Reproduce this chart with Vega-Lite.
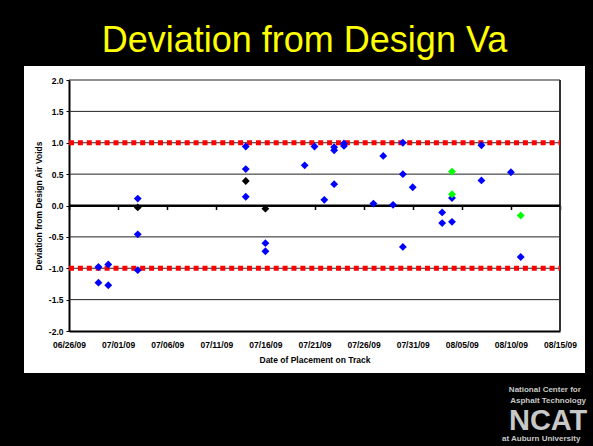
{
  "$schema": "https://vega.github.io/schema/vega-lite/v6.json",
  "width": 561,
  "height": 307,
  "autosize": {"type": "none"},
  "padding": {"left": 24, "top": 66, "right": 8, "bottom": 73},
  "background": "#000000",
  "config": {
    "view": {"fill": "#ffffff", "stroke": null},
    "font": "Liberation Sans"
  },
  "title": {
    "text": "Deviation from Design Va",
    "color": "#FFFF00",
    "fontSize": 36,
    "fontWeight": "normal",
    "font": "Liberation Sans",
    "anchor": "middle",
    "offset": 6
  },
  "datasets": {
    "points": [
      {"date": "2009-06-29", "deviation": -0.98, "series": "Test Sections"},
      {"date": "2009-06-29", "deviation": -1.23, "series": "Test Sections"},
      {"date": "2009-06-30", "deviation": -0.94, "series": "Test Sections"},
      {"date": "2009-06-30", "deviation": -1.27, "series": "Test Sections"},
      {"date": "2009-07-03", "deviation": 0.11, "series": "Test Sections"},
      {"date": "2009-07-03", "deviation": -0.46, "series": "Test Sections"},
      {"date": "2009-07-03", "deviation": -1.03, "series": "Test Sections"},
      {"date": "2009-07-14", "deviation": 0.94, "series": "Test Sections"},
      {"date": "2009-07-14", "deviation": 0.58, "series": "Test Sections"},
      {"date": "2009-07-14", "deviation": 0.14, "series": "Test Sections"},
      {"date": "2009-07-16", "deviation": -0.6, "series": "Test Sections"},
      {"date": "2009-07-16", "deviation": -0.73, "series": "Test Sections"},
      {"date": "2009-07-20", "deviation": 0.64, "series": "Test Sections"},
      {"date": "2009-07-21", "deviation": 0.94, "series": "Test Sections"},
      {"date": "2009-07-22", "deviation": 0.09, "series": "Test Sections"},
      {"date": "2009-07-23", "deviation": 0.93, "series": "Test Sections"},
      {"date": "2009-07-23", "deviation": 0.88, "series": "Test Sections"},
      {"date": "2009-07-23", "deviation": 0.34, "series": "Test Sections"},
      {"date": "2009-07-24", "deviation": 0.99, "series": "Test Sections"},
      {"date": "2009-07-24", "deviation": 0.95, "series": "Test Sections"},
      {"date": "2009-07-27", "deviation": 0.03, "series": "Test Sections"},
      {"date": "2009-07-28", "deviation": 0.79, "series": "Test Sections"},
      {"date": "2009-07-29", "deviation": 0.01, "series": "Test Sections"},
      {"date": "2009-07-30", "deviation": 1.0, "series": "Test Sections"},
      {"date": "2009-07-30", "deviation": 0.5, "series": "Test Sections"},
      {"date": "2009-07-30", "deviation": -0.66, "series": "Test Sections"},
      {"date": "2009-07-31", "deviation": 0.29, "series": "Test Sections"},
      {"date": "2009-08-03", "deviation": -0.11, "series": "Test Sections"},
      {"date": "2009-08-03", "deviation": -0.28, "series": "Test Sections"},
      {"date": "2009-08-04", "deviation": 0.12, "series": "Test Sections"},
      {"date": "2009-08-04", "deviation": -0.26, "series": "Test Sections"},
      {"date": "2009-08-07", "deviation": 0.96, "series": "Test Sections"},
      {"date": "2009-08-07", "deviation": 0.4, "series": "Test Sections"},
      {"date": "2009-08-10", "deviation": 0.53, "series": "Test Sections"},
      {"date": "2009-08-11", "deviation": -0.82, "series": "Test Sections"},
      {"date": "2009-07-03", "deviation": -0.03, "series": "Control Sections"},
      {"date": "2009-07-14", "deviation": 0.39, "series": "Control Sections"},
      {"date": "2009-07-16", "deviation": -0.05, "series": "Control Sections"},
      {"date": "2009-08-04", "deviation": 0.54, "series": "Other Sections"},
      {"date": "2009-08-04", "deviation": 0.18, "series": "Other Sections"},
      {"date": "2009-08-11", "deviation": -0.16, "series": "Other Sections"}
    ],
    "gridlines": [{"g": 2}, {"g": 1.5}, {"g": 1}, {"g": 0.5}, {"g": -0.5}, {"g": -1}, {"g": -1.5}],
    "limits": [{"limit": 1}, {"limit": -1}],
    "zero": [{"z": 0}],
    "logo": [{"name": "NCAT"}]
  },
  "resolve": {"axis": {"x": "independent", "y": "independent"}},
  "layer": [
    {
      "data": {"name": "gridlines"},
      "mark": {"type": "rule", "color": "#222222", "strokeWidth": 1},
      "encoding": {
        "x": {"datum": {"year": 2009, "month": 6, "date": 26}, "type": "temporal", "axis": null,
              "scale": {"domain": [{"year": 2009, "month": 6, "date": 26}, {"year": 2009, "month": 8, "date": 15}], "range": [45, 536], "nice": false}},
        "x2": {"datum": {"year": 2009, "month": 8, "date": 15}},
        "y": {"field": "g", "type": "quantitative",
              "scale": {"domain": [-2, 2], "range": [265, 14], "nice": false, "zero": false},
              "axis": {
                "orient": "left", "offset": -45,
                "values": [-2, -1.5, -1, -0.5, 0, 0.5, 1, 1.5, 2],
                "labelExpr": "replace(format(datum.value, '.1f'), '\u2212', '-')",
                "labelFont": "Liberation Sans", "labelFontWeight": "bold", "labelFontSize": 8.5, "labelColor": "#000000",
                "labelOverlap": false, "labelFlush": false,
                "ticks": true, "tickSize": 3, "tickColor": "#000000", "labelPadding": 3,
                "domain": true, "domainColor": "#000000", "domainWidth": 2, "grid": false,
                "title": "Deviation from Design Air Voids",
                "titleFont": "Liberation Sans", "titleFontSize": 8.5, "titleFontWeight": "bold", "titleColor": "#000000", "titlePadding": 5
              }}
      }
    },
    {
      "data": {"name": "logo"},
      "mark": {"type": "rule", "color": "#333333", "strokeWidth": 2},
      "encoding": {
        "x": {"datum": {"year": 2009, "month": 8, "date": 15}, "type": "temporal", "axis": null,
              "scale": {"domain": [{"year": 2009, "month": 6, "date": 26}, {"year": 2009, "month": 8, "date": 15}], "range": [45, 536], "nice": false}},
        "y": {"datum": -2, "type": "quantitative", "axis": null,
              "scale": {"domain": [-2, 2], "range": [265, 14], "nice": false, "zero": false}},
        "y2": {"datum": 2}
      }
    },
    {
      "data": {"name": "limits"},
      "mark": {"type": "rule", "color": "#FF0000", "strokeWidth": 5, "strokeDash": [5, 3.9]},
      "encoding": {
        "x": {"datum": {"year": 2009, "month": 6, "date": 26}, "type": "temporal", "axis": null,
              "scale": {"domain": [{"year": 2009, "month": 6, "date": 26}, {"year": 2009, "month": 8, "date": 15}], "range": [45, 536], "nice": false}},
        "x2": {"datum": {"year": 2009, "month": 8, "date": 15}},
        "y": {"field": "limit", "type": "quantitative", "axis": null,
              "scale": {"domain": [-2, 2], "range": [265, 14], "nice": false, "zero": false}}
      }
    },
    {
      "data": {"name": "zero"},
      "mark": {"type": "rule", "color": "#000000", "strokeWidth": 2},
      "encoding": {
        "x": {"datum": {"year": 2009, "month": 6, "date": 26}, "type": "temporal",
              "scale": {"domain": [{"year": 2009, "month": 6, "date": 26}, {"year": 2009, "month": 8, "date": 15}], "range": [45, 536], "nice": false},
              "axis": {
                "orient": "bottom", "offset": -167.5, "zindex": 0,
                "values": [
                  {"year": 2009, "month": 6, "date": 26}, {"year": 2009, "month": 7, "date": 1}, {"year": 2009, "month": 7, "date": 6},
                  {"year": 2009, "month": 7, "date": 11}, {"year": 2009, "month": 7, "date": 16}, {"year": 2009, "month": 7, "date": 21},
                  {"year": 2009, "month": 7, "date": 26}, {"year": 2009, "month": 7, "date": 31}, {"year": 2009, "month": 8, "date": 5},
                  {"year": 2009, "month": 8, "date": 10}, {"year": 2009, "month": 8, "date": 15}
                ],
                "labels": false, "ticks": true, "tickSize": 4, "tickColor": "#000000", "tickWidth": 1.5,
                "domain": true, "domainColor": "#000000", "domainWidth": 2, "grid": false, "title": null
              }},
        "x2": {"datum": {"year": 2009, "month": 8, "date": 15}},
        "y": {"field": "z", "type": "quantitative", "axis": null,
              "scale": {"domain": [-2, 2], "range": [265, 14], "nice": false, "zero": false}}
      }
    },
    {
      "data": {"name": "points", "format": {"parse": {"date": "date:'%Y-%m-%d'"}}},
      "mark": {"type": "point", "shape": "diamond", "filled": true, "size": 62, "opacity": 1},
      "encoding": {
        "x": {"field": "date", "type": "temporal",
              "scale": {"domain": [{"year": 2009, "month": 6, "date": 26}, {"year": 2009, "month": 8, "date": 15}], "range": [45, 536], "nice": false},
              "axis": {
                "orient": "bottom", "offset": -42,
                "values": [
                  {"year": 2009, "month": 6, "date": 26}, {"year": 2009, "month": 7, "date": 1}, {"year": 2009, "month": 7, "date": 6},
                  {"year": 2009, "month": 7, "date": 11}, {"year": 2009, "month": 7, "date": 16}, {"year": 2009, "month": 7, "date": 21},
                  {"year": 2009, "month": 7, "date": 26}, {"year": 2009, "month": 7, "date": 31}, {"year": 2009, "month": 8, "date": 5},
                  {"year": 2009, "month": 8, "date": 10}, {"year": 2009, "month": 8, "date": 15}
                ],
                "format": "%m/%d/%y",
                "labelFont": "Liberation Sans", "labelFontWeight": "bold", "labelFontSize": 8.5, "labelColor": "#000000",
                "labelOverlap": false, "labelFlush": false,
                "ticks": false, "tickSize": 0, "labelPadding": 9,
                "domain": true, "domainColor": "#000000", "domainWidth": 2, "grid": false,
                "title": "Date of Placement on Track",
                "titleFont": "Liberation Sans", "titleFontSize": 8.5, "titleFontWeight": "bold", "titleColor": "#000000", "titlePadding": 7
              }},
        "y": {"field": "deviation", "type": "quantitative", "axis": null,
              "scale": {"domain": [-2, 2], "range": [265, 14], "nice": false, "zero": false}},
        "color": {"field": "series", "type": "nominal", "legend": null,
                  "scale": {"domain": ["Test Sections", "Control Sections", "Other Sections"], "range": ["#0000FF", "#000000", "#00FF00"]}}
      }
    },
    {
      "data": {"name": "logo"},
      "mark": {"type": "text", "font": "Liberation Sans", "fontWeight": "bold", "fontSize": 8, "color": "#c8c8c8", "align": "center", "baseline": "alphabetic"},
      "encoding": {
        "text": {"value": "National Center for"},
        "x": {"datum": {"year": 2009, "month": 8, "date": 13, "hours": 11}, "type": "temporal", "axis": null,
              "scale": {"domain": [{"year": 2009, "month": 6, "date": 26}, {"year": 2009, "month": 8, "date": 15}], "range": [45, 536], "nice": false}},
        "y": {"datum": -2.98, "type": "quantitative", "axis": null,
              "scale": {"domain": [-2, 2], "range": [265, 14], "nice": false, "zero": false}}
      }
    },
    {
      "data": {"name": "logo"},
      "mark": {"type": "text", "font": "Liberation Sans", "fontWeight": "bold", "fontSize": 8, "color": "#c8c8c8", "align": "center", "baseline": "alphabetic"},
      "encoding": {
        "text": {"value": "Asphalt Technology"},
        "x": {"datum": {"year": 2009, "month": 8, "date": 13, "hours": 19}, "type": "temporal", "axis": null,
              "scale": {"domain": [{"year": 2009, "month": 6, "date": 26}, {"year": 2009, "month": 8, "date": 15}], "range": [45, 536], "nice": false}},
        "y": {"datum": -3.14, "type": "quantitative", "axis": null,
              "scale": {"domain": [-2, 2], "range": [265, 14], "nice": false, "zero": false}}
      }
    },
    {
      "data": {"name": "logo"},
      "mark": {"type": "text", "font": "Liberation Sans", "fontWeight": "bold", "fontSize": 29, "color": "#c8c8c8", "align": "center", "baseline": "alphabetic"},
      "encoding": {
        "text": {"field": "name"},
        "x": {"datum": {"year": 2009, "month": 8, "date": 13, "hours": 19}, "type": "temporal", "axis": null,
              "scale": {"domain": [{"year": 2009, "month": 6, "date": 26}, {"year": 2009, "month": 8, "date": 15}], "range": [45, 536], "nice": false}},
        "y": {"datum": -3.57, "type": "quantitative", "axis": null,
              "scale": {"domain": [-2, 2], "range": [265, 14], "nice": false, "zero": false}}
      }
    },
    {
      "data": {"name": "logo"},
      "mark": {"type": "text", "font": "Liberation Sans", "fontWeight": "bold", "fontSize": 8, "color": "#c8c8c8", "align": "center", "baseline": "alphabetic"},
      "encoding": {
        "text": {"value": "at Auburn University"},
        "x": {"datum": {"year": 2009, "month": 8, "date": 13, "hours": 2}, "type": "temporal", "axis": null,
              "scale": {"domain": [{"year": 2009, "month": 6, "date": 26}, {"year": 2009, "month": 8, "date": 15}], "range": [45, 536], "nice": false}},
        "y": {"datum": -3.76, "type": "quantitative", "axis": null,
              "scale": {"domain": [-2, 2], "range": [265, 14], "nice": false, "zero": false}}
      }
    }
  ]
}
